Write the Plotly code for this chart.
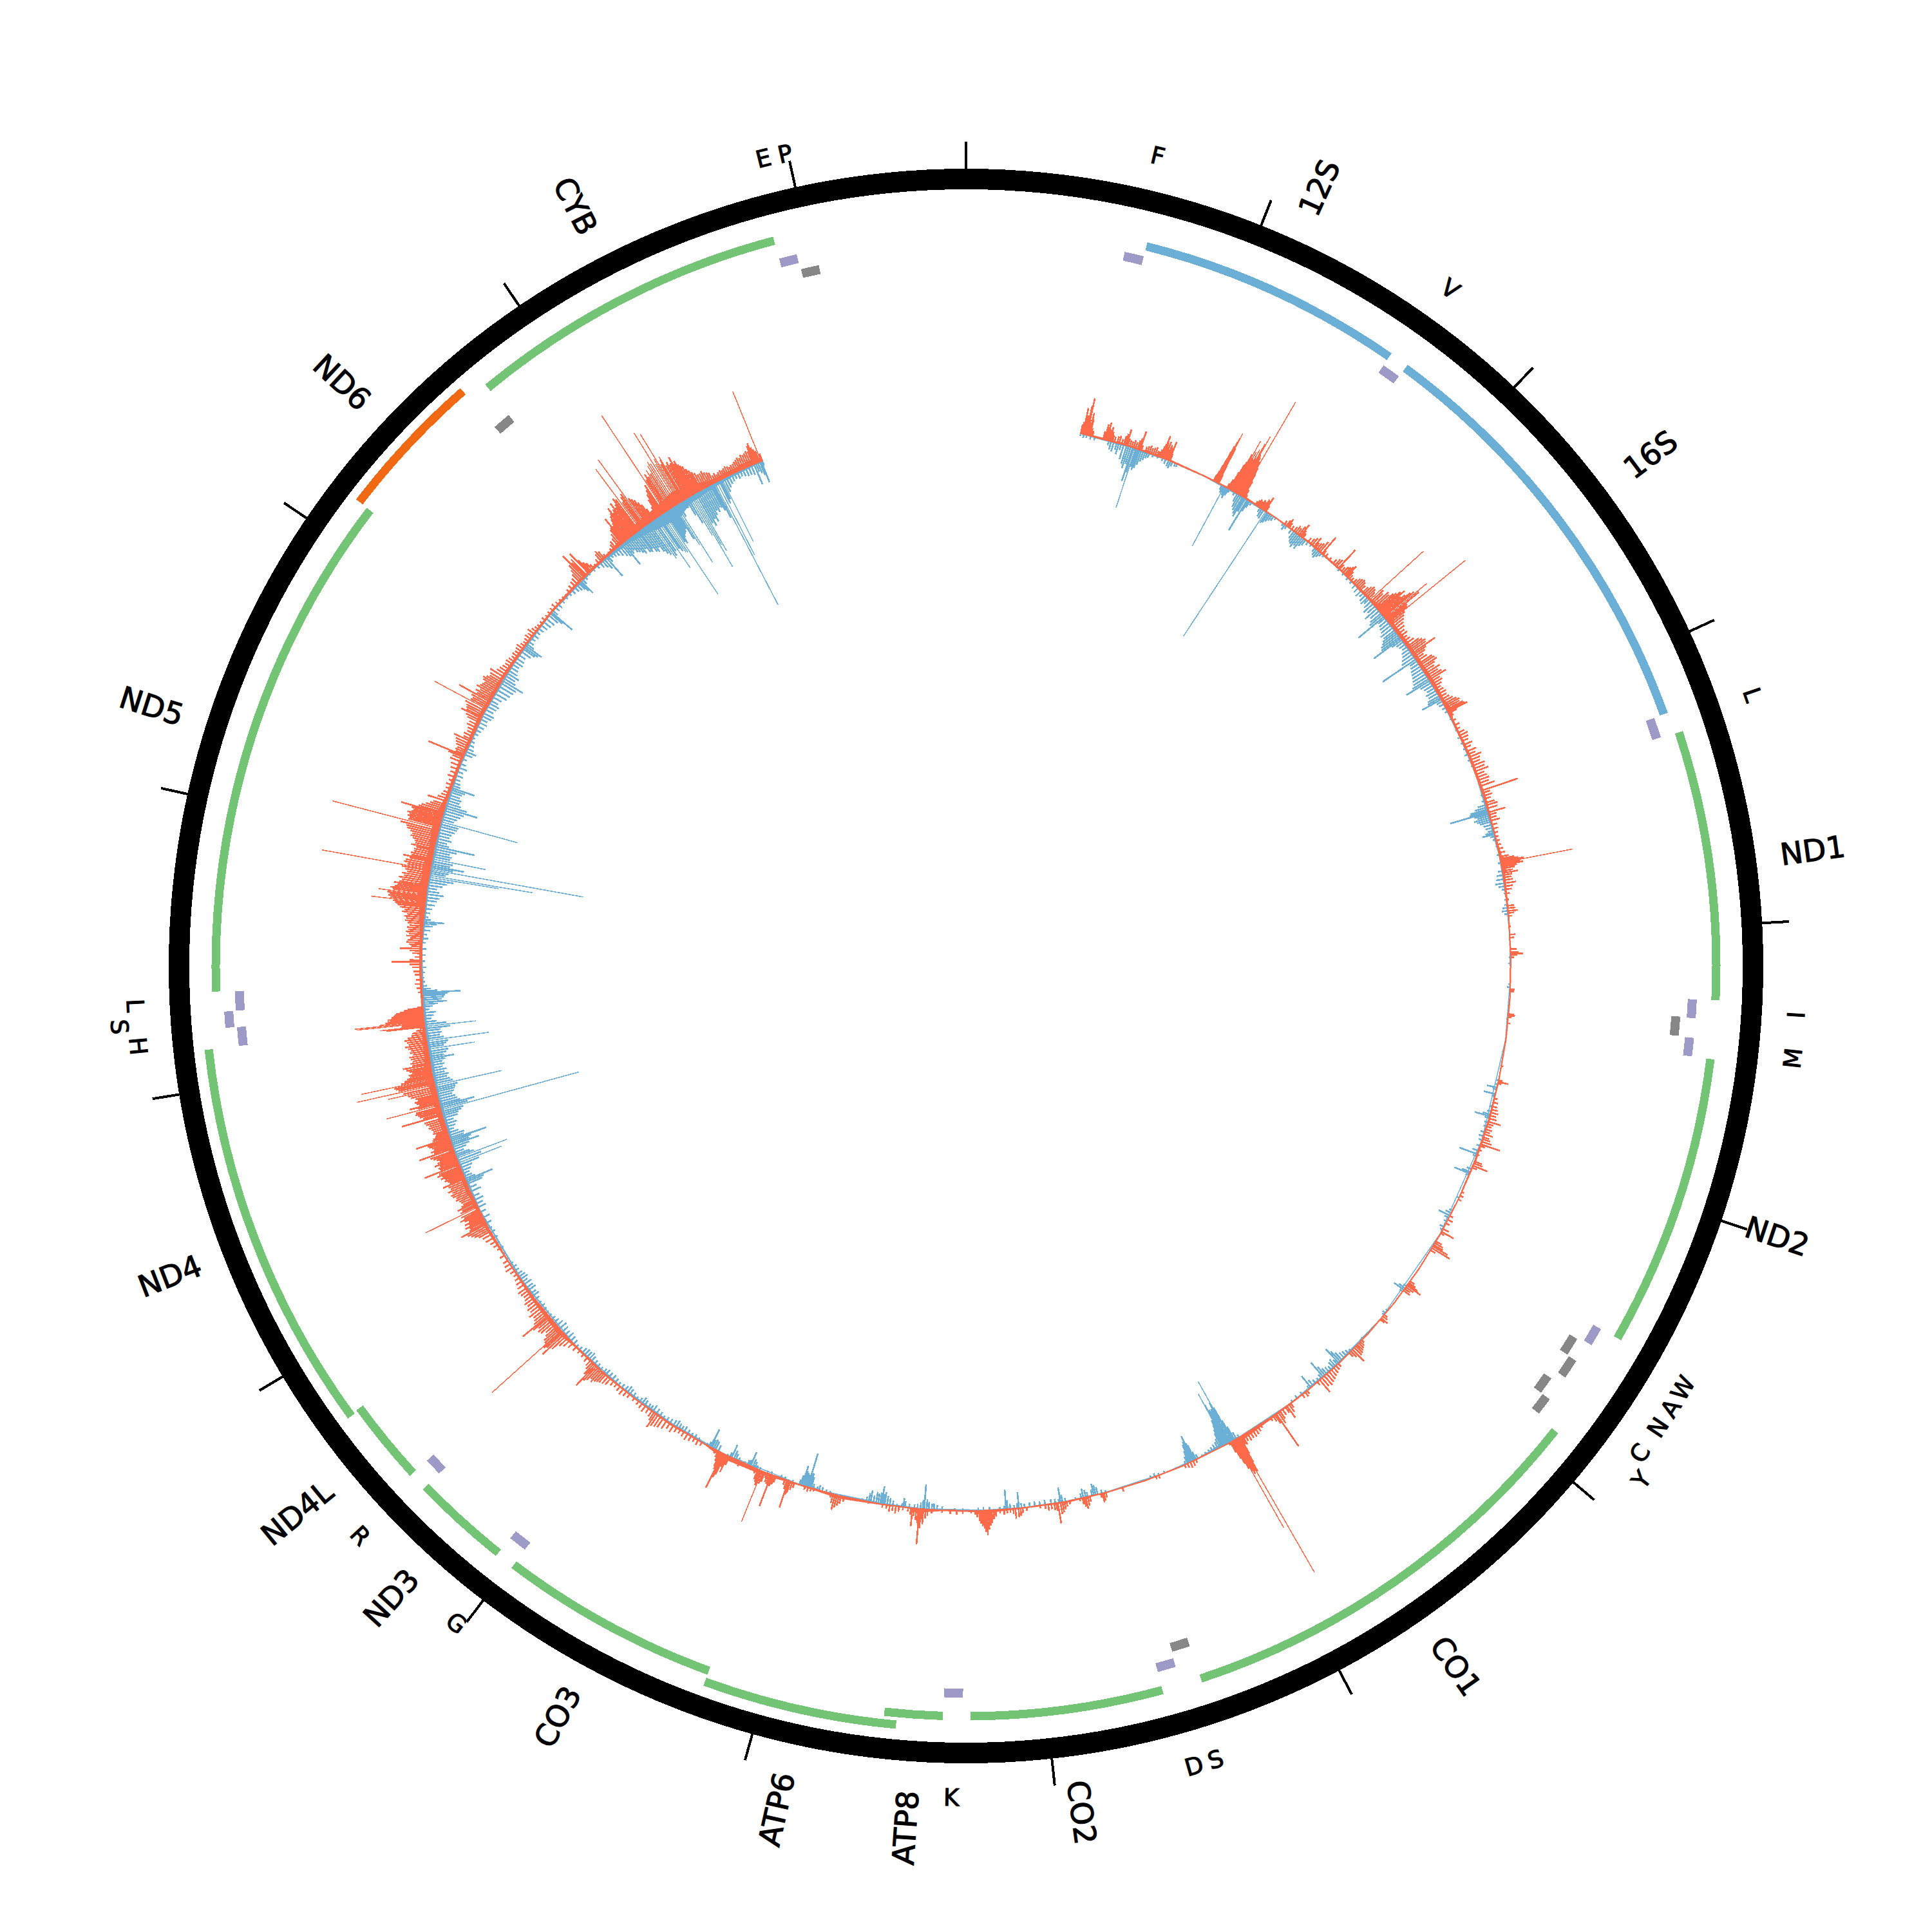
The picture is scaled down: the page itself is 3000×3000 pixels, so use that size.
import math
import plotly.graph_objects as go

GENOME = 16569
BASE = 846

# ---- gene tracks -----------------------------------------------------------
rrna_start = [648, 1671]
rrna_end = [1601, 3229]
protein_start = [3307, 4470, 5904, 7586, 8366, 9207, 10059, 10470, 12337, 14747]
protein_end = [4262, 5511, 7445, 8269, 8572, 9990, 10404, 10766, 14148, 15887]
outer_protein_start = [8527, 10760]
outer_protein_end = [9207, 12137]
nd6_start = [14149]
nd6_end = [14673]
trna_h_start = [577, 1602, 3230, 4263, 4402, 5512, 7518, 8295, 9991, 10405, 12138, 12266, 15888]
trna_h_end = [647, 1670, 3304, 4331, 4469, 5579, 7585, 8364, 10058, 10469, 12206, 12336, 15953]
trna_mid_start = [12207]
trna_mid_end = [12265]
trna_l_start = [4329, 5587, 5761, 7446, 14674, 15956]
trna_l_end = [4400, 5655, 5826, 7514, 14742, 16023]
trna_l2_start = [5657, 5826]
trna_l2_end = [5729, 5891]

# ---- labels ----------------------------------------------------------------
long_labels = ["12S", "16S", "ND1", "ND2", "CO1", "CO2", "ATP8", "ATP6", "CO3", "ND3", "ND4L", "ND4", "ND5", "ND6", "CYB"]
long_label_pos = [1124, 2450, 3784, 4990, 6674, 7927, 8469, 8867, 9598, 10231, 10618, 11448, 13242, 14411, 15317]
short_labels = ["F", "V", "L", "I", "M", "W", "A", "N", "C", "Y", "S", "D", "K", "G", "R", "H", "S", "L", "E", "P"]
short_label_pos = [612, 1636, 3267, 4297, 4435, 5545, 5621, 5693, 5793, 5858, 7480, 7551, 8330, 10024, 10437, 12172, 12236, 12301, 15920, 15990]
short_label_step = [0, 0, 0, 0, 0, 0, 0, 0, 0, 1, 0, 0, 0, 0, 0, 0, 1, 0, 0, 0]

# ---- coverage spikes, (position, height) -----------------------------------
orange_rrna = [(560,14),(565,18),(570,41),(574,22),(578,30),(582,20),(585,46),(589,58),(592,24),(597,20),(601,36),(605,26),(610,12),(618,8),
(672,12),(680,24),(686,20),(690,28),(695,18),(700,16),(705,22),(712,14),(718,10),(728,8),(742,10),(752,12),(765,8),(775,14),(782,18),(789,26),(795,12),(805,10),(815,9),(825,12),(835,10),(845,14),(852,18),(858,30),(865,8),
(885,8),(895,10),(905,12),(915,9),(925,11),(935,13),(945,8),(950,8),(958,12),(964,18),(968,22),(971,36),(975,26),(980,20),(985,28),(990,16),(995,24),(1000,20),(1004,14),(1008,31),(1012,12),
(1245,10),(1248,18),(1251,28),(1254,40),(1256,52),(1258,62),(1260,70),(1262,78),(1264,86),(1266,60),(1268,30),(1271,14),
(1318,8),(1325,16),(1332,30),(1337,44),(1341,50),(1345,64),(1349,89),(1352,60),(1356,70),(1360,58),(1364,76),(1368,62),(1372,88),(1376,102),(1380,70),(1384,66),(1388,56),(1391,60),(1395,168),(1399,50),(1403,40),(1408,28),(1414,14),(1420,6),
(1478,6),(1485,9),(1492,12),(1500,10),(1508,14),(1515,12),(1522,18),(1528,16),(1533,24),(1538,10),(1648,6),(1660,10),(1668,14),(1675,8),(1690,6),(1705,8),(1715,12),(1725,10),(1735,16),(1744,22),(1750,12),(1758,8),
(1790,8),(1805,10),(1815,14),(1827,18),(1835,10),(1845,12),(1855,14),(1865,20),(1878,33),(1885,8),(1900,6),(1925,5),(1950,8),(1962,12),(1972,14),(1984,39),(1992,10),(2005,8),(2015,12),(2025,14),(2033,18),(2040,21),(2048,12),(2058,8),(2070,6),
(2085,8),(2095,12),(2105,14),(2115,16),(2125,14),(2135,10),(2150,12),(2160,16),(2170,20),(2180,18),(2190,14),(2200,113),(2210,26),(2220,22),(2232,30),(2242,28),(2252,34),(2260,38),(2268,44),(2276,50),(2284,40),(2292,46),(2300,55),(2307,60),(2315,84),(2322,66),(2330,40),(2337,38),(2343,153),(2350,30),(2360,26),(2372,22),(2385,18),(2400,16),(2415,12),(2430,14),(2445,10),
(2460,12),(2475,16),(2490,22),(2500,26),(2510,30),(2520,28),(2531,43),(2540,24),(2550,20),(2562,14),(2575,18),(2590,24),(2600,26),(2612,28),(2622,22),(2635,18),(2648,26),(2660,20),(2672,24),(2683,30),(2695,16),(2708,18),(2722,14),(2735,10),(2750,12),(2765,14),(2780,12),(2795,14),(2808,18),(2820,22),(2830,26),(2840,24),(2850,28),(2858,30),(2863,34),(2870,14),(2885,6),(2910,6),(2935,8),(2955,6),(2975,10),(2990,14),(3005,12),(3020,10),(3040,14),(3055,10),(3075,16),(3090,12),(3105,20),(3120,16),(3135,14),(3150,20),(3165,18),(3180,22),(3195,14),(3210,16),(3225,18)]
orange_nd = [(3240,16),(3255,24),(3278,59),(3290,12),(3305,14),(3320,10),(3340,14),(3352,18),(3368,16),(3388,27),(3400,12),(3415,10),(3430,14),(3450,8),(3470,8),(3490,6),(3510,5),(3530,6),(3550,6),(3570,8),(3590,10),(3610,14),(3620,22),(3628,28),(3634,36),(3640,113),(3646,30),(3652,34),(3660,24),(3668,20),(3680,16),(3690,24),(3700,14),(3712,12),(3725,14),(3740,18),(3755,12),(3770,10),(3790,6),(3820,3),(3850,10),(3862,12),(3875,15),(3885,9),(3900,6),(3950,2),(3990,8),(4005,6),(4060,9),(4075,12),(4083,19),(4090,10),(4100,5),(4255,7),(4265,6),(4375,8),(4382,10),(4390,5),(4420,4),(4630,3),
(4700,6),(4708,16),(4716,5),(4790,5),(4810,7),(4830,8),(4845,10),(4860,12),(4875,10),(4890,12),(4906,20),(4918,10),(4930,8),(4945,10),(4958,8),(4970,14),(4985,10),(4995,12),(5008,16),(5021,31),(5030,8),(5050,5),(5075,4),(5110,12),(5120,14),(5132,24),(5142,8),(5270,4),(5290,6),(5310,5),(5400,5),(5420,8),(5440,6),(5470,10),(5486,21),(5495,6),(5540,10),(5550,14),(5560,16),(5568,26),(5578,32),(5590,8),(5770,8),(5780,12),(5788,18),(5795,25),(5805,14),(5815,10),(5825,12),(5975,6),(5985,8),(5997,12),(6005,8)]
orange_co = [(6140,5),(6150,8),(6160,10),(6170,12),(6180,14),(6190,16),(6204,25),(6215,12),(6225,8),(6300,6),(6315,8),(6330,10),(6345,12),(6360,14),(6375,16),(6390,18),(6405,16),(6420,24),(6435,6),(6500,6),(6512,8),(6530,6),(6600,8),(6610,14),(6623,22),(6632,10),(6650,10),(6665,14),(6675,20),(6687,61),(6695,16),(6705,10),(6720,6),
(6780,6),(6795,9),(6810,11),(6825,13),(6840,12),(6855,14),(6870,12),(6882,16),(6890,14),(6896,30),(6900,44),(6904,60),(6909,240),(6913,58),(6918,62),(6922,55),(6927,156),(6932,50),(6937,40),(6942,30),(6948,18),(6955,4),(7135,5),(7150,8),(7165,9),(7180,7),(7195,5),(7330,5),(7345,4),(7516,6),
(7600,8),(7610,12),(7617,14),(7625,6),(7680,8),(7690,14),(7700,18),(7708,14),(7716,10),(7730,4),(7780,5),(7795,8),(7805,12),(7815,16),(7825,18),(7838,32),(7845,12),(7855,10),(7870,8),(7885,10),(7900,6),(7925,4),(7990,5),(8010,8),(8020,12),(8030,14),(8045,16),(8055,8),(8070,6),(8085,6),(8100,8),(8120,6),(8140,10),(8150,14),(8160,20),(8168,24),(8175,30),(8183,39),(8190,34),(8197,28),(8205,24),(8212,20),(8220,16),(8230,10),(8240,6),(8260,4)]
orange_atp = [(8300,5),(8330,6),(8360,5),(8400,4),(8450,6),(8470,10),(8480,14),(8491,24),(8497,16),(8503,30),(8510,55),(8516,22),(8525,18),(8535,12),(8544,28),(8552,10),(8565,6),(8590,5),(8610,8),(8625,11),(8640,8),(8655,10),(8670,6),(8690,5),(8760,3),(8880,8),(8895,12),(8905,16),(8915,20),(8925,24),(8935,14),(8945,6),(9030,4),(9045,5),(9060,7),(9075,5),(9130,8),(9140,12),(9150,18),(9155,22),(9160,43),(9168,14),(9178,8),(9225,10),(9232,14),(9240,18),(9248,52),(9256,16),(9265,14),(9272,8),(9282,16),(9290,20),(9297,85),(9303,24),(9310,20),(9318,16),(9328,8),(9340,5),(9400,5),(9415,8),(9425,6),(9470,14),(9478,28),(9485,20),(9492,34),(9498,40),(9504,59),(9510,28),(9515,24),(9522,16),(9530,10),(9545,6),
(9620,6),(9640,8),(9660,6),(9680,8),(9700,10),(9720,8),(9740,6),(9760,8),(9780,12),(9800,10),(9820,14),(9840,16),(9855,18),(9870,20),(9882,25),(9892,14),(9905,10),(9925,8),(9945,10),(9965,8),(9985,6),(10010,5),(10040,6),(10060,8),(10080,10),(10100,8),(10120,6),(10140,8),(10160,12),(10175,14),(10190,16),(10200,18),(10210,20),(10220,24),(10230,20),(10240,26),(10250,30),(10259,43),(10268,22),(10278,14),(10290,10),(10310,8),(10335,6),(10360,6),(10385,8),(10410,10),(10430,14),(10445,18),(10458,30),(10470,46),(10480,34),(10488,38),(10494,144),(10502,32),(10512,30),(10522,24),(10535,20),(10548,26),(10560,28),(10572,24),(10582,32),(10590,51),(10600,26),(10612,22),(10625,20),(10640,24),(10655,18),(10670,20),(10685,16),(10700,18),(10715,14),(10730,12),(10745,14),(10760,16),(10780,12),(10800,10),(10820,8),(10840,6),(10860,8),(10880,12),(10900,10),(10920,8),(10950,8)]
orange_nd4 = [(10990,5),(11010,8),(11030,10),(11050,14),(11070,16),(11085,20),(11095,26),(11105,30),(11115,34),(11125,44),(11133,28),(11142,26),(11150,32),(11158,24),(11166,30),(11174,22),(11182,28),(11190,34),(11198,26),(11206,30),(11217,90),(11225,28),(11233,24),(11242,30),(11250,22),(11258,18),(11268,20),(11278,22),(11288,26),(11298,24),(11308,28),(11318,30),(11328,26),(11338,32),(11348,26),(11358,28),(11368,36),(11376,24),(11384,26),(11392,30),(11400,28),(11408,34),(11416,30),(11424,38),(11432,34),(11442,57),(11450,30),(11458,32),(11466,28),(11474,36),(11482,30),(11490,26),(11498,30),(11506,34),(11514,38),(11525,55),(11533,30),(11541,34),(11549,28),(11557,30),(11565,34),(11572,36),(11580,54),(11588,26),(11596,24),(11604,20),(11612,18),(11620,22),(11630,20),(11640,22),(11650,26),(11660,24),(11670,28),(11680,30),(11695,65),(11703,30),(11712,34),(11720,36),(11728,40),(11736,38),(11746,85),(11754,34),(11760,46),(11768,30),(11776,34),(11784,36),(11792,30),(11800,34),(11810,40),(11820,44),(11828,75),(11836,50),(11846,123),(11854,56),(11862,60),(11868,62),(11875,114),(11882,50),(11890,44),(11898,40),(11906,34),(11914,36),(11922,30),(11930,34),(11938,38),(11948,43),(11956,28),(11966,30),(11976,26),(11986,28),(11996,30),(12006,24),(12016,28),(12026,26),(12036,30),(12046,34),(12056,28),(12066,30),(12076,34),(12086,28),(12096,22),(12106,20),(12116,14),(12125,8),
(12132,60),(12136,70),(12150,105),(12155,108),(12160,70),(12165,60),(12170,56),(12175,52),(12180,56),(12185,50),(12190,50),(12195,46),(12200,44),(12205,42),(12210,36),(12216,30),(12222,24),(12228,8)]
orange_nd5 = [(12300,6),(12320,8),(12340,10),(12360,8),(12385,10),(12400,12),(12420,14),(12435,18),(12446,46),(12455,18),(12470,10),(12488,14),(12500,18),(12510,33),(12520,16),(12530,20),(12540,24),(12550,22),(12560,18),(12570,24),(12580,20),(12590,26),(12600,22),(12610,24),(12620,20),(12632,24),(12642,28),(12652,26),(12662,30),(12672,26),(12682,34),(12692,30),(12702,38),(12712,42),(12720,46),(12728,50),(12735,84),(12742,54),(12750,58),(12758,56),(12765,60),(12772,74),(12780,52),(12788,56),(12796,50),(12804,46),(12812,52),(12820,44),(12830,40),(12840,46),(12850,38),(12860,42),(12870,34),(12880,38),(12890,44),(12897,170),(12905,36),(12914,42),(12924,40),(12934,34),(12942,45),(12950,32),(12960,34),(12970,30),(12980,30),(12990,28),(12998,36),(13008,30),(13018,32),(13028,36),(13038,40),(13048,38),(13058,42),(13068,48),(13078,50),(13088,60),(13099,171),(13108,50),(13116,48),(13124,52),(13132,50),(13140,54),(13148,48),(13156,46),(13164,50),(13172,67),(13180,40),(13190,36),(13200,30),(13210,24),(13220,20),(13237,31),(13250,16),(13265,12),(13280,10),(13300,8),(13320,10),(13340,8),(13360,12),(13380,10),(13400,12),(13420,14),(13440,18),(13455,16),(13465,24),(13472,59),(13480,14),(13490,16),(13500,14),(13512,18),(13524,20),(13536,22),(13550,27),(13560,12),(13575,14),(13590,10),(13605,12),(13620,16),(13635,14),(13650,20),(13660,24),(13672,34),(13680,26),(13690,28),(13700,30),(13712,34),(13724,90),(13732,28),(13742,26),(13752,30),(13763,54),(13772,24),(13782,28),(13792,22),(13802,30),(13812,26),(13822,24),(13832,22),(13842,26),(13852,28),(13862,24),(13872,20),(13884,22),(13900,25),(13915,16),(13930,14),(13945,12),(13960,10),(13975,12),(13990,10),(14005,8),(14020,10),(14035,8),(14050,10),(14065,12),(14080,8),(14095,6),(14110,8),(14125,10),(14140,8)]
orange_cyb = [(14155,12),(14170,8),(14185,6),(14200,5),(14220,5),(14240,6),(14260,4),(14280,5),(14300,6),(14320,8),(14340,6),(14360,5),(14380,4),(14400,3),(14420,6),(14440,8),(14460,10),(14475,12),(14490,16),(14500,22),(14510,30),(14520,47),(14528,30),(14536,34),(14550,42),(14558,26),(14566,18),(14575,14),(14585,8),(14600,4),(14620,8),(14635,14),(14645,18),(14655,14),(14665,6),(14690,4),(14705,6),(14720,10),(14730,14),(14745,16),(14755,22),(14765,28),(14772,30),(14778,46),(14785,30),(14792,34),(14798,40),(14804,44),(14812,48),(14818,56),(14825,46),(14832,50),(14840,60),(14848,50),(14855,54),(14862,64),(14870,60),(14880,116),(14888,50),(14896,58),(14904,62),(14912,126),(14920,50),(14928,46),(14936,42),(14944,36),(14952,30),(14960,20),(14968,10),(14976,8),(14984,18),(14992,30),(15000,38),(15008,44),(15016,52),(15027,179),(15034,58),(15042,66),(15050,60),(15058,70),(15066,62),(15074,74),(15082,80),(15090,75),(15100,129),(15108,70),(15114,78),(15120,122),(15128,66),(15134,72),(15138,77),(15146,60),(15154,64),(15162,58),(15168,60),(15174,69),(15180,56),(15186,60),(15192,52),(15198,49),(15206,46),(15214,40),(15222,36),(15230,32),(15240,28),(15250,24),(15260,24),(15270,26),(15280,22),(15290,20),(15300,18),(15310,12),(15320,14),(15330,10),(15340,12),(15350,14),(15360,12),(15370,14),(15380,16),(15390,14),(15400,12),(15410,14),(15420,14),(15430,16),(15440,18),(15450,20),(15460,18),(15470,22),(15480,20),(15490,22),(15500,24),(15510,22),(15516,30),(15523,34),(15530,26),(15536,22),(15544,18),(15552,117),(15558,12)]

blue_rrna = [(560,4),(575,6),(590,5),(610,6),(630,6),(700,8),(712,14),(725,16),(740,12),(750,18),(762,10),(775,24),(790,30),(800,36),(810,28),(820,55),(826,40),(834,97),(840,30),(848,34),(856,30),(865,24),(875,18),(885,14),(895,10),(905,8),(925,5),(950,4),(975,5),(990,8),(1005,10),(1015,12),(1025,8),(1040,6),(1050,5),
(1290,8),(1297,12),(1303,105),(1310,14),(1318,18),(1325,12),(1332,6),(1360,6),(1375,14),(1385,22),(1395,26),(1405,30),(1412,34),(1420,24),(1431,56),(1438,20),(1445,12),(1455,6),(1505,8),(1515,14),(1525,16),(1537,233),(1545,20),(1553,18),(1562,14),(1572,10),(1582,8),(1595,4),
(1640,5),(1650,10),(1660,6),(1690,8),(1705,14),(1715,18),(1725,20),(1735,24),(1745,18),(1755,22),(1765,14),(1775,10),(1790,6),(1810,4),(1835,8),(1845,12),(1855,14),(1865,10),(1875,6),(1890,4),(1990,4),(2020,4),(2050,5),(2075,5),(2100,8),(2120,10),(2140,12),(2155,8),(2170,12),(2185,14),(2195,10),(2210,14),(2225,20),(2240,16),(2255,25),(2270,18),(2285,22),(2295,26),(2306,52),(2315,14),(2330,16),(2345,18),(2360,20),(2375,24),(2390,22),(2400,26),(2410,30),(2420,34),(2430,36),(2439,53),(2448,20),(2460,14),(2475,12),(2490,10),(2505,14),(2520,16),(2535,20),(2550,24),(2564,63),(2575,14),(2590,16),(2605,18),(2620,20),(2635,22),(2650,24),(2665,26),(2678,30),(2688,43),(2700,20),(2715,16),(2730,14),(2745,18),(2760,16),(2775,20),(2785,22),(2794,34),(2805,10),(2820,8),(2840,6),(2860,5),(2900,3),(2960,3),(3000,5),(3030,4),(3060,4),(3090,6),(3120,4),(3150,3)]
blue_nd = [(3300,4),(3330,6),(3350,14),(3362,20),(3372,28),(3380,30),(3388,62),(3396,24),(3405,20),(3415,26),(3425,22),(3435,18),(3450,14),(3465,12),(3480,10),(3490,14),(3498,20),(3508,8),(3525,5),(3560,3),(3600,4),(3640,5),(3680,7),(3700,10),(3720,12),(3740,14),(3755,10),(3770,6),(3790,3),(3820,4),(3845,5),(3860,8),(3875,10),(3890,6),(4100,3),(4130,4),(4230,4),(4245,5),(4400,3),
(4700,4),(4720,5),(4736,16),(4745,6),(4768,19),(4778,5),(4830,5),(4855,6),(4870,12),(4879,24),(4888,8),(4910,6),(4930,5),(4960,7),(4980,8),(5000,6),(5030,6),(5055,10),(5072,30),(5082,6),(5150,8),(5165,14),(5173,26),(5182,6),(5300,3),(5370,6),(5385,10),(5399,20),(5410,8),(5430,6),(5460,8),(5475,5),(5800,6),(5812,12),(5822,19),(5832,6),(5950,4),(5965,6),(5975,4)]
blue_co = [(6100,3),(6130,4),(6215,5),(6230,8),(6245,10),(6260,12),(6275,16),(6286,22),(6296,30),(6306,10),(6318,14),(6330,12),(6345,8),(6360,10),(6375,12),(6386,18),(6397,30),(6408,8),(6425,6),(6445,8),(6462,12),(6476,23),(6486,6),(6530,5),(6560,6),(6590,4),
(6900,5),(6915,12),(6925,24),(6932,36),(6937,60),(6941,107),(6946,70),(6952,60),(6958,58),(6964,60),(6969,70),(6973,90),(6979,44),(6984,36),(6990,30),(6996,24),(7005,16),(7015,12),(7030,10),(7045,8),(7060,6),(7080,5),(7100,4),(7125,8),(7135,14),(7142,26),(7147,30),(7152,43),(7158,34),(7165,30),(7172,20),(7180,12),(7190,6),(7300,4),(7330,4),(7350,6),(7370,5),(7600,4),(7620,6),(7640,12),(7650,16),(7659,19),(7668,10),(7690,8),(7700,12),(7712,15),(7722,8),(7750,4),(7800,6),(7815,12),(7824,24),(7832,6),(7850,7),(7870,8),(7900,8),(7925,7),(7950,8),(7975,7),(8000,6),(8015,8),(8028,25),(8036,8),(8050,6),(8070,8),(8083,14),(8090,31),(8098,6),(8120,4),(8170,5),(8200,6),(8225,5)]
blue_atp = [(8300,4),(8340,4),(8400,6),(8425,8),(8440,10),(8450,9),(8465,12),(8475,16),(8487,39),(8494,14),(8505,10),(8520,8),(8535,6),(8560,6),(8580,10),(8588,14),(8596,6),(8620,4),(8640,8),(8655,12),(8668,14),(8680,20),(8688,16),(8694,28),(8702,18),(8712,16),(8722,18),(8735,12),(8749,19),(8758,14),(8770,8),(8790,4),(8950,4),(8970,5),(8990,7),(9005,9),(9015,6),(9035,8),(9045,18),(9052,24),(9058,22),(9062,55),(9070,20),(9078,22),(9084,24),(9090,32),(9098,16),(9105,8),(9140,4),(9180,5),(9200,6),(9250,5),(9270,4),(9310,5),(9325,6),(9335,10),(9345,14),(9357,24),(9365,10),(9373,8),(9390,4),(9420,6),(9435,10),(9445,14),(9458,22),(9466,8),(9480,3),(9530,10),(9545,14),(9555,16),(9565,14),(9573,31),(9580,8),(9592,4),
(9640,5),(9660,7),(9680,6),(9700,8),(9720,10),(9735,8),(9750,9),(9765,12),(9780,10),(9800,8),(9820,7),(9840,6),(9860,8),(9880,10),(9900,12),(9915,9),(9930,8),(9950,10),(9965,12),(9980,8),(10000,6),(10020,8),(10040,10),(10055,12),(10070,9),(10090,8),(10110,6),(10130,8),(10150,10),(10170,9),(10190,10),(10205,8),(10225,6),(10245,7),(10265,8),(10285,10),(10300,13),(10315,11),(10330,12),(10345,10),(10365,6),(10385,5),(10405,8),(10425,10),(10445,12),(10465,10),(10485,12),(10505,14),(10525,12),(10545,10),(10565,8),(10585,6),(10605,5),(10625,6),(10645,8),(10665,6),(10690,8),(10710,12),(10725,10),(10745,14),(10760,12),(10780,14),(10795,10),(10810,14),(10825,12),(10840,10),(10860,8),(10880,8),(10900,6),(10930,4),(10960,4),(10990,6),(11020,5),(11050,7),(11080,8),(11100,6)]
blue_nd4 = [(11130,10),(11160,12),(11190,10),(11215,14),(11235,12),(11255,16),(11275,12),(11300,18),(11320,14),(11340,26),(11350,30),(11359,46),(11368,18),(11380,14),(11395,12),(11410,16),(11425,20),(11440,34),(11451,72),(11463,40),(11475,84),(11484,30),(11493,24),(11505,16),(11520,22),(11532,28),(11543,45),(11552,30),(11562,34),(11571,60),(11580,24),(11592,26),(11605,18),(11620,12),(11635,16),(11650,20),(11665,16),(11680,24),(11692,26),(11702,32),(11712,36),(11722,223),(11731,44),(11741,56),(11750,34),(11762,30),(11775,28),(11788,24),(11800,28),(11812,30),(11822,32),(11832,36),(11843,107),(11853,30),(11865,26),(11878,22),(11890,26),(11902,20),(11915,24),(11928,18),(11942,22),(11955,20),(11966,25),(11976,39),(11986,24),(11998,28),(12010,32),(12022,74),(12032,26),(12042,30),(12052,34),(12063,98),(12073,28),(12085,22),(12098,26),(12112,24),(12123,40),(12133,80),(12143,34),(12155,20),(12170,12),(12185,16),(12200,20),(12215,10),(12230,16),(12241,24),(12251,38),(12262,30),(12272,34),(12282,36),(12290,40),(12298,60),(12306,24),(12316,14),(12330,8)]
blue_nd5 = [(12350,6),(12370,5),(12395,6),(12420,8),(12450,6),(12480,7),(12510,8),(12540,6),(12560,10),(12580,8),(12600,12),(12620,16),(12632,22),(12641,33),(12652,12),(12665,8),(12685,10),(12705,12),(12725,16),(12745,18),(12760,22),(12776,28),(12790,20),(12805,16),(12820,24),(12835,30),(12848,40),(12859,110),(12868,163),(12878,26),(12888,30),(12897,242),(12906,36),(12915,53),(12925,30),(12937,34),(12949,85),(12960,28),(12972,30),(12985,26),(12998,36),(13011,64),(13022,22),(13035,18),(13050,24),(13065,20),(13080,22),(13095,26),(13110,28),(13122,30),(13134,124),(13146,20),(13160,24),(13175,28),(13190,32),(13203,53),(13215,35),(13228,24),(13242,20),(13256,22),(13270,18),(13285,20),(13296,24),(13306,38),(13318,14),(13332,12),(13350,10),(13370,12),(13390,10),(13410,14),(13430,10),(13455,8),(13480,14),(13495,18),(13510,12),(13530,10),(13550,8),(13570,6),(13590,8),(13610,10),(13630,12),(13650,14),(13668,12),(13685,16),(13700,18),(13720,14),(13738,16),(13755,18),(13770,14),(13790,16),(13810,22),(13830,24),(13850,26),(13868,28),(13882,38),(13895,22),(13910,18),(13925,22),(13940,16),(13958,14),(13975,12),(13992,16),(14010,14),(14030,12),(14050,18),(14066,22),(14075,26),(14085,31),(14095,14),(14110,10),(14130,8)]
blue_cyb = [(14150,10),(14170,8),(14190,10),(14210,12),(14230,14),(14250,16),(14270,18),(14282,24),(14290,42),(14300,10),(14320,8),(14340,8),(14365,6),(14390,5),(14415,6),(14435,8),(14455,10),(14470,12),(14482,14),(14490,20),(14498,27),(14508,10),(14525,6),(14550,4),(14580,5),(14605,6),(14625,10),(14640,14),(14652,20),(14665,39),(14675,12),(14690,8),(14705,10),(14720,12),(14735,16),(14750,20),(14762,24),(14772,43),(14782,24),(14792,20),(14802,26),(14812,28),(14822,32),(14832,36),(14842,30),(14852,38),(14862,40),(14870,36),(14880,44),(14890,46),(14900,40),(14910,50),(14920,56),(14930,60),(14940,70),(14950,66),(14960,60),(14972,94),(14982,60),(14990,66),(15000,70),(15008,72),(15018,152),(15026,56),(15034,60),(15042,50),(15050,46),(15058,44),(15066,40),(15074,60),(15082,72),(15091,106),(15100,24),(15110,14),(15120,10),(15132,14),(15145,30),(15155,46),(15165,70),(15174,128),(15182,90),(15190,102),(15200,54),(15210,60),(15220,50),(15230,56),(15240,46),(15250,40),(15260,44),(15270,38),(15280,40),(15288,46),(15296,60),(15304,214),(15316,128),(15328,40),(15336,34),(15344,109),(15354,24),(15366,18),(15380,14),(15395,12),(15410,10),(15425,12),(15440,10),(15455,12),(15470,14),(15485,14),(15500,16),(15515,34),(15525,14),(15535,18),(15545,22),(15552,35),(15558,8)]

# solid part of the coverage hugging the baseline
orange_body = [(557,2),(800,2),(1000,2),(1200,1),(1245,1),(1255,14),(1268,20),(1275,1),(1330,2),(1345,14),(1400,20),(1420,2),(1600,1),(1800,2),(2000,2),(2200,3),(2260,8),(2330,12),(2360,5),(2500,5),(2700,5),(2800,4),(2860,8),(2900,2),(3100,3),(3300,3),(3500,1),(3630,4),(3650,8),(3700,3),(3900,1),(4100,1),(4300,1),(4500,1),(4700,1),(4900,2),(5100,2),(5300,1),(5500,1),(5700,1),(5900,1),(6100,1),(6300,1),(6500,1),(6700,2),(6880,6),(6900,10),(6925,30),(6945,6),(6960,1),(7200,1),(7400,1),(7600,1),(7800,2),(8000,1),(8150,3),(8185,12),(8240,2),(8400,1),(8500,5),(8560,1),(8700,1),(8900,4),(9100,1),(9300,5),(9500,7),(9600,1),(9800,2),(10000,1),(10200,2),(10400,2),(10500,7),(10700,4),(10900,1),(11100,4),(11300,5),(11500,7),(11700,7),(11900,10),(12100,5),(12130,3),(12140,36),(12220,18),(12232,2),(12400,3),(12600,4),(12800,12),(13000,8),(13150,12),(13250,4),(13450,3),(13700,5),(13900,4),(14100,2),(14300,2),(14500,3),(14700,3),(14800,8),(14900,12),(15000,14),(15100,20),(15200,14),(15300,6),(15400,6),(15500,8),(15560,5)]
blue_body = [(557,1),(800,2),(1000,1),(1200,1),(1400,2),(1600,1),(1800,1),(2000,1),(2200,1),(2400,2),(2600,2),(2800,1),(3000,1),(3200,1),(3400,3),(3600,1),(3800,1),(4000,1),(4200,1),(4500,1),(5000,1),(5500,1),(6000,1),(6300,2),(6600,1),(6900,1),(6930,5),(6960,18),(7000,5),(7100,2),(7300,1),(7600,1),(7800,1),(8000,1),(8200,1),(8500,1),(8700,2),(9000,1),(9060,4),(9100,1),(9500,1),(9800,2),(10100,2),(10400,1),(10800,2),(11200,2),(11500,3),(11800,4),(12100,4),(12300,3),(12500,1),(12800,3),(13100,3),(13400,2),(13700,2),(14000,2),(14300,1),(14600,2),(14800,6),(14900,12),(15000,18),(15070,20),(15150,10),(15300,6),(15400,4),(15500,3),(15560,2)]

orange_spikes = orange_rrna + orange_nd + orange_co + orange_atp + orange_nd4 + orange_nd5 + orange_cyb
blue_spikes = blue_rrna + blue_nd + blue_co + blue_atp + blue_nd4 + blue_nd5 + blue_cyb


def deg(p):
    return p / GENOME * 360


def spike_lines(spikes, sign):
    th, rr = [], []
    for p, h in spikes:
        th += [deg(p), deg(p), None]
        rr += [BASE, BASE + sign * h, None]
    return th, rr


def body_poly(body, sign):
    th = [deg(p) for p, _ in body] + [deg(p) for p, _ in reversed(body)]
    rr = [BASE + sign * h for _, h in body] + [BASE] * len(body)
    return th, rr


def track(starts, ends, radius, thick, color):
    return go.Barpolar(
        theta=[deg((s + e) / 2) for s, e in zip(starts, ends)],
        width=[deg(e - s) for s, e in zip(starts, ends)],
        base=[radius - thick / 2] * len(starts),
        r=[thick] * len(starts),
        marker=dict(color=color, line=dict(width=0)),
        hoverinfo="skip",
    )


def add_spikes(fig, spikes, sign, color):
    # tall isolated spikes stay hairline, the dense short ones merge into tufts
    for group, w in (([s for s in spikes if s[1] >= 70], 1.5), ([s for s in spikes if s[1] < 70], 2.6)):
        th, rr = spike_lines(group, sign)
        fig.add_trace(go.Scatterpolar(theta=th, r=rr, mode="lines", line=dict(color=color, width=w), hoverinfo="skip"))


GREEN, BLUE, ORANGE, PURPLE, GREY, RED = "#74C476", "#6BAED6", "#F16913", "#9E9AC8", "#878787", "#FF6B4A"

fig = go.Figure()
fig.add_trace(go.Barpolar(theta=[180], width=[360], base=[1206], r=[32], marker=dict(color="black", line=dict(width=0)), hoverinfo="skip"))
fig.add_trace(track(rrna_start, rrna_end, 1152, 13, BLUE))
fig.add_trace(track(protein_start, protein_end, 1165, 13, GREEN))
fig.add_trace(track(outer_protein_start, outer_protein_end, 1183, 13, GREEN))
fig.add_trace(track(nd6_start, nd6_end, 1186, 13, ORANGE))
fig.add_trace(track(trna_h_start, trna_h_end, 1129, 14, PURPLE))
fig.add_trace(track(trna_mid_start, trna_mid_end, 1147, 14, PURPLE))
fig.add_trace(track(trna_l_start, trna_l_end, 1105, 14, GREY))
fig.add_trace(track(trna_l2_start, trna_l2_end, 1122, 14, GREY))

tick_th, tick_r = [], []
for p in range(0, GENOME, 1000):
    tick_th += [deg(p), deg(p), None]
    tick_r += [1236, 1280, None]
fig.add_trace(go.Scatterpolar(theta=tick_th, r=tick_r, mode="lines", line=dict(color="black", width=4), hoverinfo="skip"))

th, rr = body_poly(blue_body, -1)
fig.add_trace(go.Scatterpolar(theta=th, r=rr, mode="lines", fill="toself", fillcolor=BLUE, line=dict(color=BLUE, width=0.5), hoverinfo="skip"))
add_spikes(fig, blue_spikes, -1, BLUE)
add_spikes(fig, orange_spikes, 1, RED)
th, rr = body_poly(orange_body, 1)
fig.add_trace(go.Scatterpolar(theta=th, r=rr, mode="lines", fill="toself", fillcolor=RED, line=dict(color=RED, width=0.5), hoverinfo="skip"))
baseline = [p for p, _ in orange_body]
fig.add_trace(go.Scatterpolar(theta=[deg(p) for p in baseline], r=[BASE] * len(baseline), mode="lines", line=dict(color=RED, width=2), hoverinfo="skip"))

annotations = []


def label(text, pos, radius, angle, size):
    t = math.radians(deg(pos))
    annotations.append(dict(
        text=text, xref="paper", yref="paper", showarrow=False,
        x=(1500 + radius * math.sin(t)) / 3000, y=(1500 + radius * math.cos(t)) / 3000,
        xanchor="center", yanchor="middle", textangle=angle,
        font=dict(family="DejaVu Sans", size=size, color="black"),
    ))


for name, p in zip(long_labels, long_label_pos):
    a = deg(p)
    rot = a - 90 if a < 180 else a - 270
    label(name, p, 1282 + 15 * len(name), rot, 47)
for name, p, step in zip(short_labels, short_label_pos, short_label_step):
    a = deg(p)
    rot = a if a < 90 else (a - 180 if a < 270 else a - 360)
    label(name, p, 1292 + 26 * step, rot, 37)

fig.update_layout(
    width=3000, height=3000, margin=dict(l=0, r=0, t=0, b=0), showlegend=False,
    paper_bgcolor="white", plot_bgcolor="white", annotations=annotations,
    polar=dict(
        domain=dict(x=[0, 1], y=[0, 1]), bgcolor="white", barmode="overlay", bargap=0,
        radialaxis=dict(range=[0, 1500], visible=False, showgrid=False),
        angularaxis=dict(direction="clockwise", rotation=90, thetaunit="degrees", type="linear", visible=False, showgrid=False),
    ),
)
css = (
    "document.body.style.margin='0';"
    "var s=document.createElement('style');"
    "s.textContent='.js-plotly-plot path{shape-rendering:crispEdges !important}"
    " .annotation-text{stroke:#000;stroke-width:1.1px}';"
    "document.head.appendChild(s);"
)
fig.write_html("out.html", post_script=css, config={"displayModeBar": False})
